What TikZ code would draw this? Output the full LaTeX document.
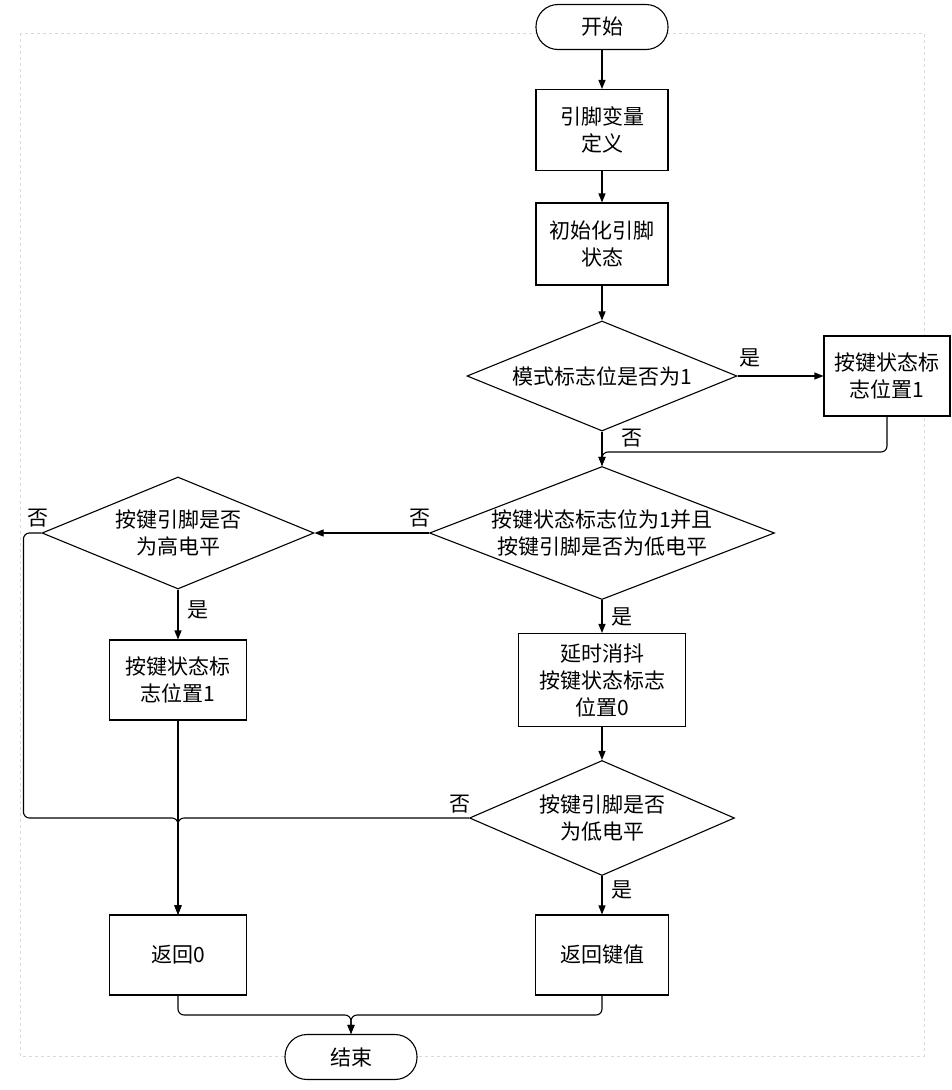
\documentclass[tikz,border=0pt]{standalone}
\usepackage{fontspec}
\setmainfont{Noto Sans CJK SC}
\usetikzlibrary{shapes.geometric,arrows.meta}
\begin{document}
\begin{tikzpicture}[x=1pt,y=-1pt,
  font=\fontsize{21}{27}\selectfont,
  proc/.style={draw, line width=1.1pt, fill=white, align=center, inner sep=2pt},
  term/.style={draw, line width=1.1pt, fill=white, rounded corners=22pt, minimum width=132pt, minimum height=45pt},
  dia/.style={diamond, draw, line width=1.1pt, inner sep=0pt},
  txt/.style={align=center, inner sep=0pt},
  lbl/.style={inner sep=1pt},
  arr/.style={line width=1.1pt, rounded corners=6pt, -{Triangle[length=9pt,width=7pt]}},
  frame/.style={draw=black!15, dashed, line width=0.6pt}]
\useasboundingbox (0,0) rectangle (952,1090);
\draw[frame] (20,33) rectangle (924,1056);
% nodes
\node[term] (start) at (602,27) {开始};
\node[proc, minimum width=132pt, minimum height=81pt] (b1) at (602,130) {引脚变量\\定义};
\node[proc, minimum width=132pt, minimum height=82pt] (b2) at (602,244) {初始化引脚\\状态};
\node[dia, minimum width=270pt, minimum height=110pt] (d1) at (602,376) {};
\node[txt] (d1t) at (d1) {模式标志位是否为1};
\node[proc, minimum width=126pt, minimum height=80pt] (r1) at (887,376) {按键状态标\\志位置1};
\node[dia, minimum width=345pt, minimum height=133pt] (d2) at (602,533) {};
\node[txt] (d2t) at (d2) {按键状态标志位为1并且\\按键引脚是否为低电平};
\node[dia, minimum width=272pt, minimum height=112pt] (d3) at (178,533) {};
\node[txt] (d3t) at (d3) {按键引脚是否\\为高电平};
\node[proc, minimum width=137pt, minimum height=80pt] (b3) at (178,680) {按键状态标\\志位置1};
\node[proc, minimum width=167pt, minimum height=93pt] (b4) at (602,680) {延时消抖\\按键状态标志\\位置0};
\node[dia, minimum width=265pt, minimum height=115pt] (d4) at (602,818) {};
\node[txt] (d4t) at (d4) {按键引脚是否\\为低电平};
\node[proc, minimum width=137pt, minimum height=80pt] (r0) at (178,955) {返回0};
\node[proc, minimum width=133pt, minimum height=80pt] (rk) at (602,955) {返回键值};
\node[term] (end) at (351,1057) {结束};
% junction coordinates
\coordinate (m1) at (602,452);
\coordinate (j1) at (178,818);
\coordinate (j2) at (351,1015);
% connectors
\draw[arr] (start) -- (b1);
\draw[arr] (b1) -- (b2);
\draw[arr] (b2) -- (d1.north);
\draw[arr] (d1.east) -- (r1.west);
\draw[arr] (d1.south) -- (d2.north);
\draw[arr] (r1.south) |- (m1) -- (d2.north);
\draw[arr] (d2.west) -- (d3.east);
\draw[arr] (d2.south) -- (b4.north);
\draw[arr] (d3.south) -- (b3.north);
\draw[arr] (b4) -- (d4.north);
\draw[arr] (d4.south) -- (rk.north);
\draw[arr] (d3.west) -- ++(-18,0) |- (j1) -- (r0.north);
\draw[arr] (d4.west) -- (j1) -- (r0.north);
\draw[arr] (b3) -- (r0);
\draw[arr] (r0.south) |- (j2) -- (end.north);
\draw[arr] (rk.south) |- (j2) -- (end.north);
% labels
\node[lbl] (l1) at (750,358) {是};
\node[lbl] (l2) at (632,438) {否};
\node[lbl] (l3) at (420,518) {否};
\node[lbl] (l4) at (622,617) {是};
\node[lbl] (l5) at (198,610) {是};
\node[lbl] (l6) at (38,518) {否};
\node[lbl] (l7) at (460,804) {否};
\node[lbl] (l8) at (622,890) {是};
\end{tikzpicture}
\end{document}
